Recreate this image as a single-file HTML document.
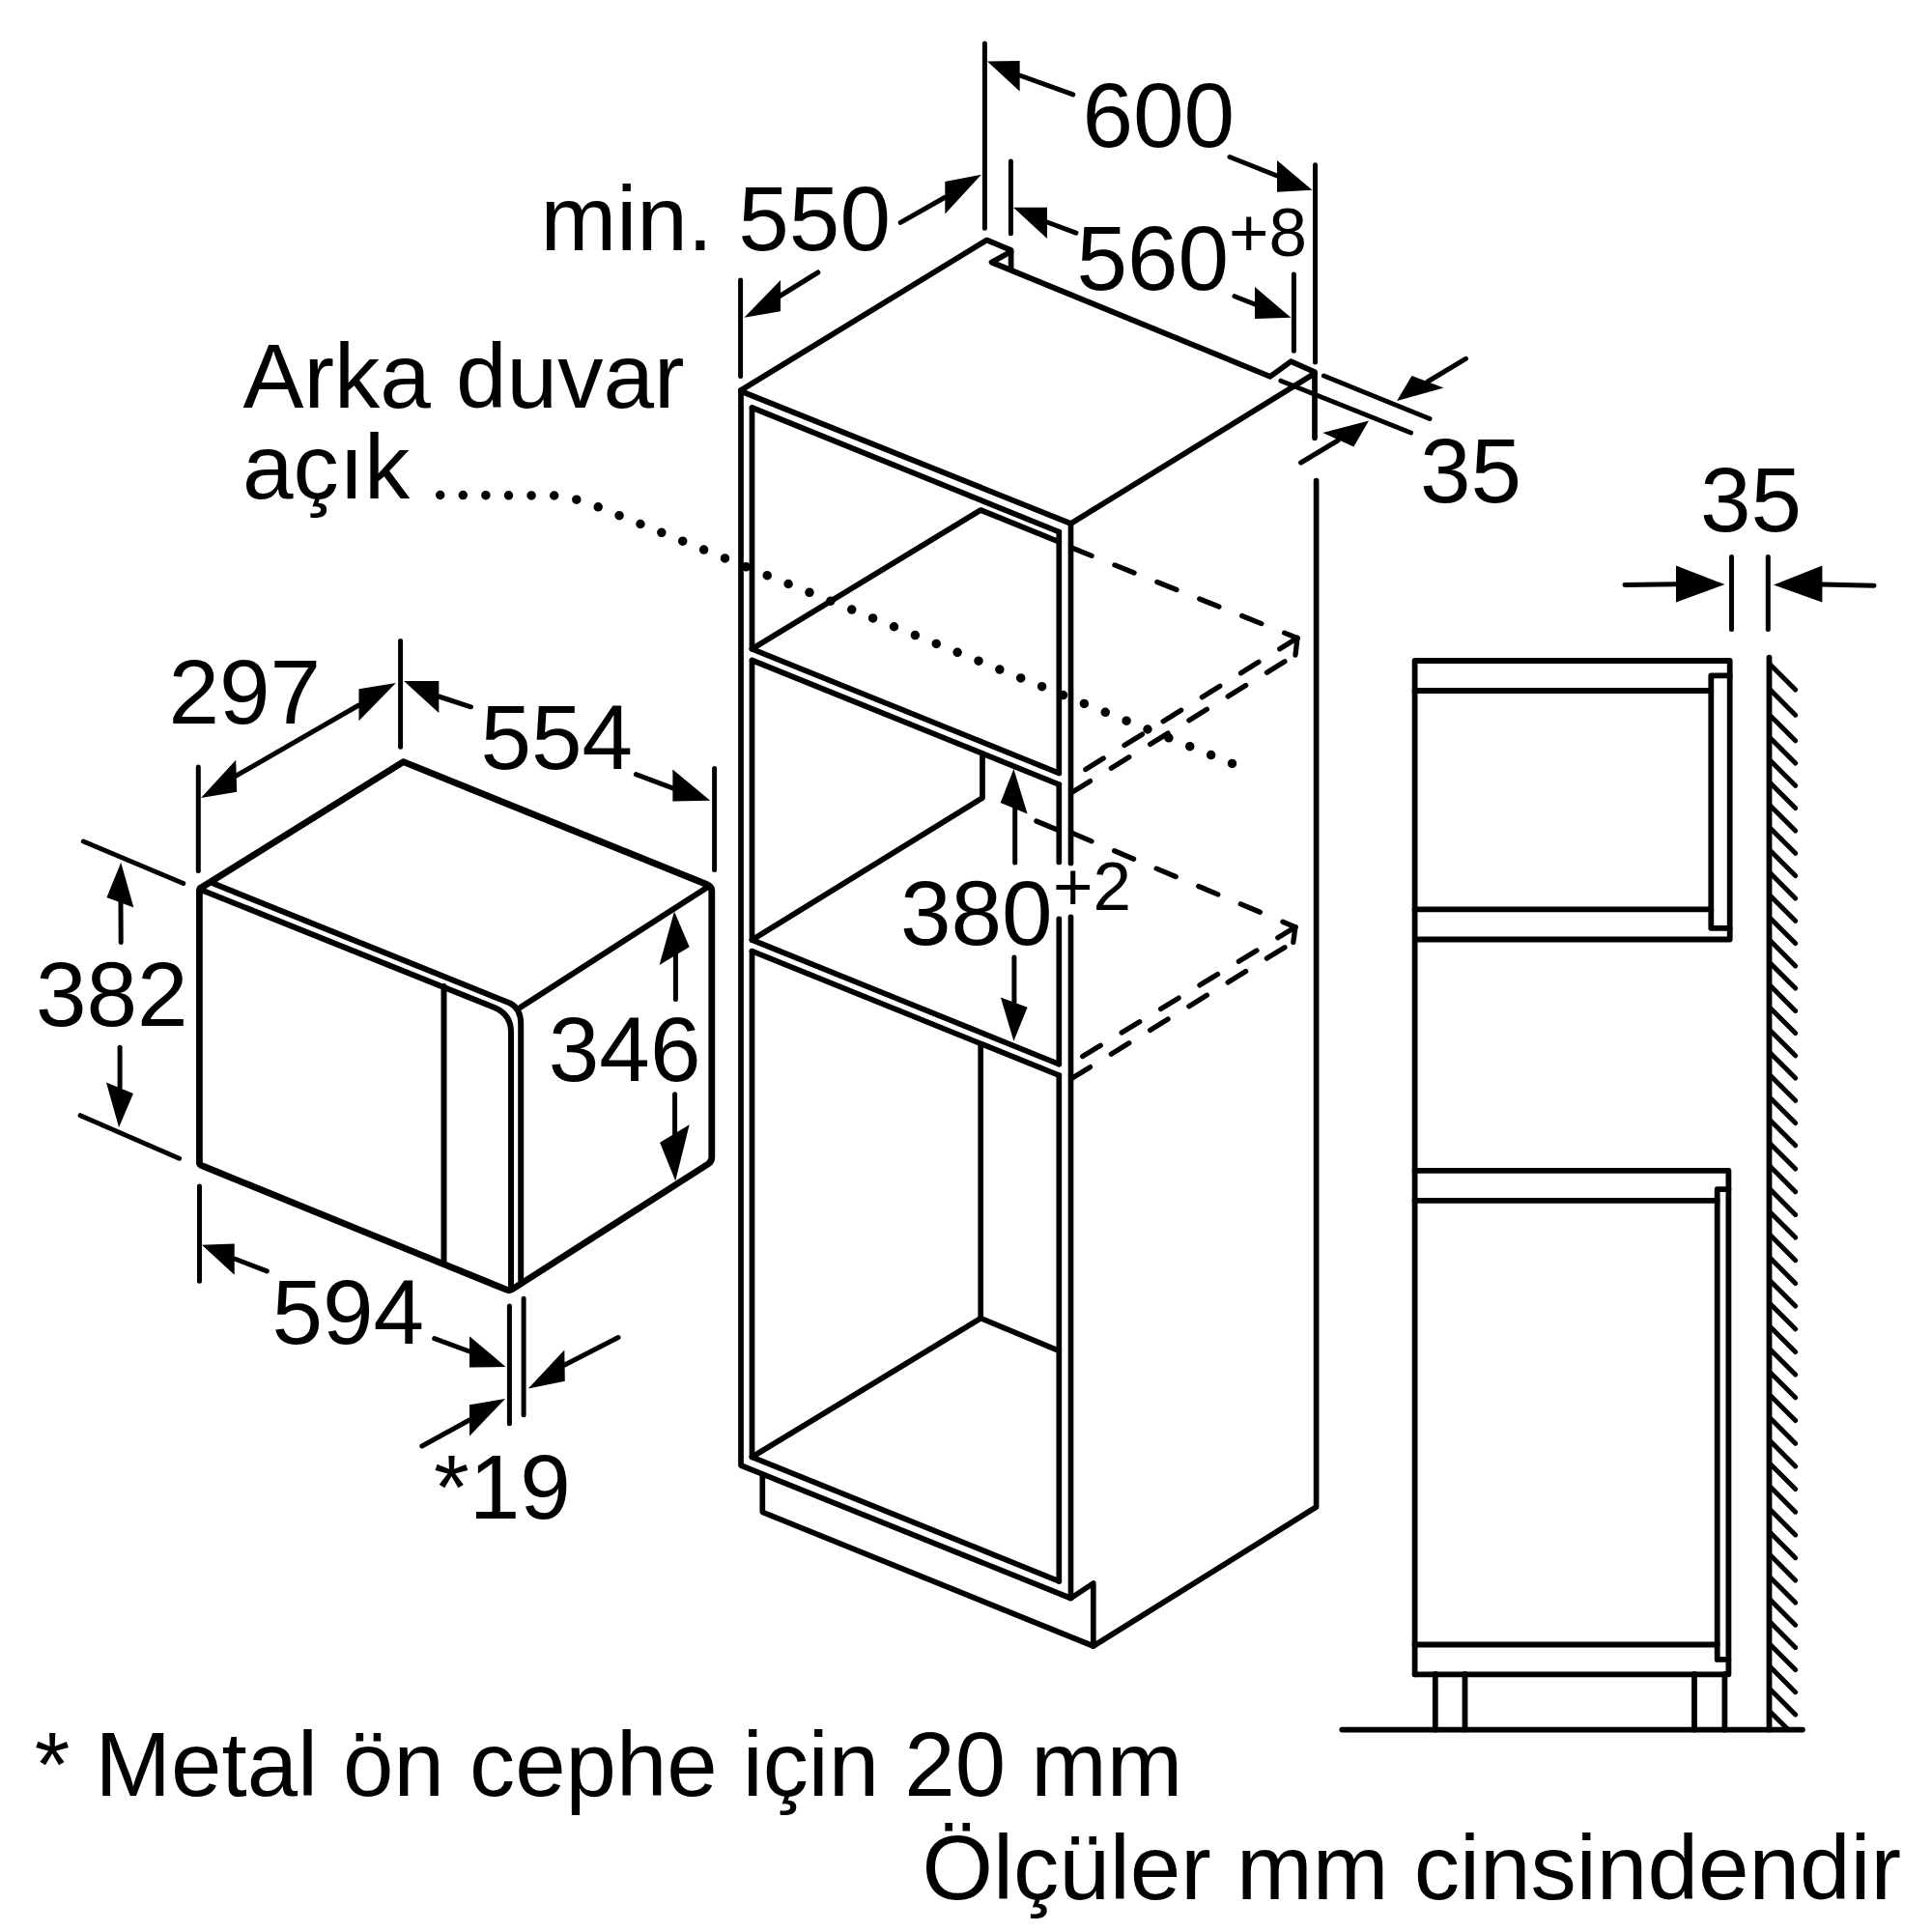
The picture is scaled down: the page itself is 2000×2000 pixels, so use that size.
<!DOCTYPE html>
<html><head><meta charset="utf-8"><style>
html,body{margin:0;padding:0;background:#fff;width:2000px;height:2000px;overflow:hidden}
svg{display:block}
text{font-family:"Liberation Sans",sans-serif;fill:#000}
</style></head><body>
<svg width="2000" height="2000" viewBox="0 0 2000 2000">
<rect width="2000" height="2000" fill="#fff"/>
<g fill="none" stroke="#000" stroke-linecap="round" stroke-linejoin="round">
<path d="M767,404 V1517 L1108.5,1654.5 L1131.8,1639 V1704 L1362.6,1560 V497.7" stroke-width="5.7" />
<path d="M789.3,1526 V1565.3 L1131.8,1704" stroke-width="5.7" />
<line x1="767" y1="405" x2="1108.5" y2="542" stroke-width="5.7"/>
<line x1="1108.5" y1="542" x2="1108.5" y2="893.5" stroke-width="5.7"/>
<line x1="1108.5" y1="949.4" x2="1108.5" y2="1654.5" stroke-width="5.7"/>
<path d="M767,404 L1021.5,248.5 L1046.6,259 V279" stroke-width="5.7" />
<path d="M1046.6,260.5 L1026.5,271.5 L1315,389.8 L1336.3,374.2 L1361,385.2 V453.2" stroke-width="5.7" />
<line x1="1361" y1="386.5" x2="1108.5" y2="542" stroke-width="5.7"/>
<line x1="778.5" y1="422" x2="1096.3" y2="550.5500999999999" stroke-width="5.7"/>
<line x1="778.5" y1="671.8" x2="1096.3" y2="800.3500999999999" stroke-width="5.7"/>
<line x1="778.5" y1="422" x2="778.5" y2="671.8" stroke-width="5.7"/>
<line x1="1096.3" y1="550.5500999999999" x2="1096.3" y2="800.3500999999999" stroke-width="5.7"/>
<line x1="778.5" y1="683.5" x2="1096.3" y2="812.0500999999999" stroke-width="5.7"/>
<line x1="778.5" y1="973" x2="1096.3" y2="1101.5501" stroke-width="5.7"/>
<line x1="778.5" y1="683.5" x2="778.5" y2="973" stroke-width="5.7"/>
<line x1="1096.3" y1="812.0500999999999" x2="1096.3" y2="892.5" stroke-width="5.7"/>
<line x1="1096.3" y1="951.4" x2="1096.3" y2="1101.5501" stroke-width="5.7"/>
<line x1="778.5" y1="984.6" x2="1096.3" y2="1113.1501" stroke-width="5.7"/>
<line x1="778.5" y1="1508.3" x2="1096.3" y2="1636.8500999999999" stroke-width="5.7"/>
<line x1="778.5" y1="984.6" x2="778.5" y2="1508.3" stroke-width="5.7"/>
<line x1="1096.3" y1="1113.1501" x2="1096.3" y2="1636.8500999999999" stroke-width="5.7"/>
<path d="M778.5,671.8 L1015.2,528 L1096.3,560.8" stroke-width="5.7" />
<path d="M778.5,973 L1017,826 V780" stroke-width="5.7" />
<path d="M778.5,1508.3 L1015.2,1364.7 L1096.3,1398.3" stroke-width="5.7" />
<line x1="1015.2" y1="1080.5" x2="1015.2" y2="1364.7" stroke-width="5.7"/>
<path d="M1110,567.3 L1343,660.5" stroke-width="5.3" stroke-dasharray="21.7 25.6"/>
<line x1="1343" y1="660.5" x2="1341" y2="678" stroke-width="5.3"/>
<path d="M1108.5,806 L1343,660.5" stroke-width="5.3" stroke-dasharray="21.7 25.6" stroke-dashoffset="29.3"/>
<path d="M1110,820 L1341,678" stroke-width="5.3" stroke-dasharray="21.7 25.6"/>
<path d="M1110,862.4 L1340.9,959.7" stroke-width="5.3" stroke-dasharray="21.7 25.6"/>
<line x1="1340.9" y1="959.7" x2="1338.8" y2="975.3" stroke-width="5.3"/>
<path d="M1108.5,1101 L1340.9,959.7" stroke-width="5.3" stroke-dasharray="21.7 25.6" stroke-dashoffset="33"/>
<path d="M1110,1116 L1338.8,975.3" stroke-width="5.3" stroke-dasharray="21.7 25.6"/>
<path d="M1072.8,850 L1094.5,859" stroke-width="5.3" />
<path d="M455.7,512.5 L574,513 C590,514 600,518 618.7,524.6 L1276.7,790.9" stroke-width="9.5" stroke-dasharray="0 23.6" stroke-linecap="round" fill="none"/>
<line x1="766.6" y1="290" x2="766.6" y2="389.5" stroke-width="5.0"/>
<polygon points="770.4,328.7 808,289.9 808,322.2" fill="#000" stroke="none"/>
<line x1="808" y1="306" x2="846.8" y2="282" stroke-width="5.0"/>
<polygon points="1015.9,180.8 978.3,188 978.3,221.4" fill="#000" stroke="none"/>
<line x1="932.2" y1="230.4" x2="978.3" y2="204.3" stroke-width="5.0"/>
<line x1="1019.4" y1="45" x2="1019.4" y2="236.3" stroke-width="5.0"/>
<line x1="1361.5" y1="170.8" x2="1361.5" y2="375" stroke-width="5.0"/>
<polygon points="1022,63.4 1055.6,62.9 1055.6,94.5" fill="#000" stroke="none"/>
<line x1="1055.6" y1="78" x2="1110.8" y2="97.8" stroke-width="5.0"/>
<polygon points="1358.4,196.7 1322,166 1322,198.8" fill="#000" stroke="none"/>
<line x1="1273" y1="162.5" x2="1322" y2="182" stroke-width="5.0"/>
<line x1="1046.4" y1="167" x2="1046.4" y2="241.7" stroke-width="5.0"/>
<line x1="1339.4" y1="284" x2="1339.4" y2="363.3" stroke-width="5.0"/>
<polygon points="1049,214.8 1084,214.8 1084,247" fill="#000" stroke="none"/>
<line x1="1084" y1="230" x2="1113.9" y2="241.2" stroke-width="5.0"/>
<polygon points="1336.4,328.7 1299,297 1299,330" fill="#000" stroke="none"/>
<line x1="1278" y1="306.7" x2="1299" y2="315" stroke-width="5.0"/>
<line x1="1325.9" y1="394.2" x2="1460.5" y2="448" stroke-width="5.0"/>
<line x1="1370.4" y1="389" x2="1480" y2="433.5" stroke-width="5.0"/>
<polygon points="1446,414.9 1461.5,389 1494.6,401.4" fill="#000" stroke="none"/>
<line x1="1478" y1="395" x2="1517.4" y2="371.4" stroke-width="5.0"/>
<polygon points="1417,435.6 1369.4,448 1401.4,462.5" fill="#000" stroke="none"/>
<line x1="1346.6" y1="479" x2="1385" y2="456" stroke-width="5.0"/>
<polygon points="1049.4,796 1035.7,831 1063.6,842.5" fill="#000" stroke="none"/>
<line x1="1050.7" y1="836" x2="1050.7" y2="893" stroke-width="5.0"/>
<polygon points="1049.4,1077.7 1035.9,1032.5 1063.6,1042.8" fill="#000" stroke="none"/>
<line x1="1049.9" y1="991" x2="1049.9" y2="1038" stroke-width="5.0"/>
<path d="M206.4,1204 V922 Q206.4,919.5 209,918.5 L417.6,788.7 L731.5,915.5 Q736.5,917.5 736.8,922 V1198 Q736.8,1202.5 733,1205 L530.5,1334.5 Q527.5,1336.5 524.5,1335.2 L211,1207.5 Q206.4,1206 206.4,1204 Z" stroke-width="6.8" />
<path d="M220.8,914.5 L528,1038.5 Q539.2,1044 539.2,1060 V1325" stroke-width="6.0" />
<line x1="539.2" y1="1042.5" x2="733.8" y2="917.5" stroke-width="6.0"/>
<path d="M209,921.5 L513,1043.5 Q529,1051 529,1068 V1335" stroke-width="6.0" />
<line x1="459.5" y1="1021" x2="459.5" y2="1305.5" stroke-width="6.0"/>
<line x1="205.3" y1="793.9" x2="205.3" y2="901.6" stroke-width="5.0"/>
<line x1="414.6" y1="663.5" x2="414.6" y2="773.2" stroke-width="5.0"/>
<polygon points="208,826 244.2,786.7 245.2,819.8" fill="#000" stroke="none"/>
<polygon points="409.8,707 371.5,713.2 371.5,746.3" fill="#000" stroke="none"/>
<line x1="244.5" y1="803" x2="371.5" y2="730" stroke-width="5.0"/>
<line x1="739.6" y1="795.5" x2="739.6" y2="900.5" stroke-width="5.0"/>
<polygon points="418.1,704.9 454.3,704.9 454.3,738" fill="#000" stroke="none"/>
<line x1="454.3" y1="721" x2="487.5" y2="731.8" stroke-width="5.0"/>
<polygon points="735.2,828.8 696.4,796.6 696.4,829.6" fill="#000" stroke="none"/>
<line x1="658.4" y1="801.7" x2="696.4" y2="815.8" stroke-width="5.0"/>
<line x1="86.3" y1="871" x2="189.8" y2="914.5" stroke-width="5.0"/>
<line x1="83.1" y1="1154.7" x2="185.6" y2="1199.2" stroke-width="5.0"/>
<polygon points="125.2,892.8 110.5,929 138.4,939.4" fill="#000" stroke="none"/>
<line x1="125" y1="934" x2="125.2" y2="975.6" stroke-width="5.0"/>
<polygon points="123.1,1167.1 110,1120.5 138,1131.9" fill="#000" stroke="none"/>
<line x1="124.1" y1="1084.3" x2="124.1" y2="1126" stroke-width="5.0"/>
<polygon points="698,943.5 682.6,999 713.7,980.3" fill="#000" stroke="none"/>
<line x1="699.4" y1="985" x2="699.4" y2="1034.6" stroke-width="5.0"/>
<polygon points="699.2,1222.6 683.1,1182.8 713.7,1164.2" fill="#000" stroke="none"/>
<line x1="698.6" y1="1132.7" x2="698.6" y2="1178" stroke-width="5.0"/>
<line x1="206.5" y1="1227.9" x2="206.5" y2="1326.2" stroke-width="5.0"/>
<polygon points="209,1288.7 242.7,1287.4 242.7,1319.8" fill="#000" stroke="none"/>
<line x1="242.7" y1="1303" x2="276.3" y2="1315.9" stroke-width="5.0"/>
<polygon points="523.5,1415 486,1383.2 486,1415.5" fill="#000" stroke="none"/>
<line x1="449.7" y1="1385.7" x2="486" y2="1399" stroke-width="5.0"/>
<line x1="527.4" y1="1352" x2="527.4" y2="1473.7" stroke-width="5.0"/>
<line x1="542.1" y1="1344.3" x2="542.1" y2="1464.7" stroke-width="5.0"/>
<polygon points="546.8,1437.5 584.3,1397.4 584.8,1429.7" fill="#000" stroke="none"/>
<line x1="584.5" y1="1413" x2="640" y2="1384.5" stroke-width="5.0"/>
<polygon points="523,1447.9 486,1454.3 486,1486.7" fill="#000" stroke="none"/>
<line x1="436.8" y1="1497" x2="486" y2="1470" stroke-width="5.0"/>
<path d="M1464.6,1733.3 V684 H1790.7 V972.5 H1464.6" stroke-width="5.8" />
<line x1="1464.6" y1="715" x2="1771.3" y2="715" stroke-width="5.8"/>
<line x1="1464.6" y1="941.4" x2="1771.3" y2="941.4" stroke-width="5.8"/>
<path d="M1790.7,699.4 H1771.3 V960.8 H1790.7" stroke-width="5.8" />
<path d="M1464.6,1211.8 H1789.4 V1733.3 H1464.6" stroke-width="5.8" />
<line x1="1464.6" y1="1242.8" x2="1777.7" y2="1242.8" stroke-width="5.8"/>
<line x1="1464.6" y1="1702.5" x2="1777.7" y2="1702.5" stroke-width="5.8"/>
<path d="M1789.4,1231.2 H1777.7 V1717.9 H1789.4" stroke-width="5.8" />
<line x1="1485.8" y1="1733" x2="1485.8" y2="1790.6" stroke-width="5.8"/>
<line x1="1516.5" y1="1733" x2="1516.5" y2="1790.6" stroke-width="5.8"/>
<line x1="1754" y1="1733" x2="1754" y2="1790.6" stroke-width="5.8"/>
<line x1="1785.4" y1="1733" x2="1785.4" y2="1790.6" stroke-width="5.8"/>
<line x1="1389.3" y1="1790.6" x2="1865.9" y2="1790.6" stroke-width="5.8"/>
<line x1="1831.5" y1="680.6" x2="1831.5" y2="1790.6" stroke-width="5.8"/>
<path d="M1832,687.5 L1858.6,714.1 M1832,713.6 L1858.6,740.2 M1832,740.2 L1858.6,766.8 M1832,763.4 L1858.6,790.0 M1832,786.7 L1858.6,813.3 M1832,810.0 L1858.6,836.6 M1832,833.4 L1858.6,860.0 M1832,856.7 L1858.6,883.3 M1832,880.0 L1858.6,906.6 M1832,903.3 L1858.6,929.9 M1832,926.7 L1858.6,953.3 M1832,950.0 L1858.6,976.6 M1832,973.3 L1858.6,999.9 M1832,996.5 L1858.6,1023.1 M1832,1019.8 L1858.6,1046.4 M1832,1043.0 L1858.6,1069.6 M1832,1066.2 L1858.6,1092.8 M1832,1089.5 L1858.6,1116.1 M1832,1112.7 L1858.6,1139.3 M1832,1136.0 L1858.6,1162.6 M1832,1159.2 L1858.6,1185.8 M1832,1183.4 L1858.6,1210.0 M1832,1207.1 L1858.6,1233.7 M1832,1230.8 L1858.6,1257.4 M1832,1254.4 L1858.6,1281.0 M1832,1278.1 L1858.6,1304.7 M1832,1301.8 L1858.6,1328.4 M1832,1325.5 L1858.6,1352.1 M1832,1349.2 L1858.6,1375.8 M1832,1372.9 L1858.6,1399.5 M1832,1396.5 L1858.6,1423.1 M1832,1420.2 L1858.6,1446.8 M1832,1443.9 L1858.6,1470.5 M1832,1467.6 L1858.6,1494.2 M1832,1491.3 L1858.6,1517.9 M1832,1514.9 L1858.6,1541.5 M1832,1538.6 L1858.6,1565.2 M1832,1562.3 L1858.6,1588.9 M1832,1586.1 L1858.6,1612.7 M1832,1609.3 L1858.6,1635.9 M1832,1632.4 L1858.6,1659.0 M1832,1655.6 L1858.6,1682.2 M1832,1678.8 L1858.6,1705.4 M1832,1702.0 L1858.6,1728.6 M1832,1725.1 L1858.6,1751.7 M1832,1748.3 L1858.6,1774.9 M1832,1771.5 L1851.1,1790.6" stroke-width="5.0" />
<line x1="1792.5" y1="576.5" x2="1792.5" y2="651.5" stroke-width="5.0"/>
<line x1="1830.3" y1="576.5" x2="1830.3" y2="651.5" stroke-width="5.0"/>
<polygon points="1785.5,605 1735,585.5 1735,623.6" fill="#000" stroke="none"/>
<line x1="1682" y1="605.4" x2="1735" y2="604.8" stroke-width="5.0"/>
<polygon points="1836,605.4 1886.4,585.5 1886.4,623.6" fill="#000" stroke="none"/>
<line x1="1886.4" y1="605" x2="1940" y2="606.2" stroke-width="5.0"/>
</g>
<g>
<text x="559.5" y="258.8" font-size="94.5">min. 550</text>
<text x="1120.5" y="151.5" font-size="94.5">600</text>
<text x="1114.5" y="299.5" font-size="94.5">560</text>
<text x="1272" y="264.5" font-size="71">+8</text>
<text x="1470" y="519.5" font-size="94.5">35</text>
<text x="1760" y="549.5" font-size="94.5">35</text>
<text x="174.5" y="749.2" font-size="94.5">297</text>
<text x="497.5" y="796" font-size="94.5">554</text>
<text x="37" y="1062" font-size="94.5">382</text>
<text x="567.8" y="1119" font-size="94.5">346</text>
<text x="932" y="977.5" font-size="94.5">380</text>
<text x="1090" y="942" font-size="71">+2</text>
<text x="281.5" y="1390.5" font-size="94.5">594</text>
<text x="449" y="1572" font-size="94.5">*19</text>
<text x="251.5" y="421.9" font-size="94.5">Arka duvar</text>
<text x="251" y="515.8" font-size="94.5">açık</text>
<text x="35.8" y="1859" font-size="94.2">* Metal ön cephe için 20 mm</text>
<text x="954.5" y="1966.3" font-size="94.5">Ölçüler mm cinsindendir</text>
</g>
</svg>
</body></html>
